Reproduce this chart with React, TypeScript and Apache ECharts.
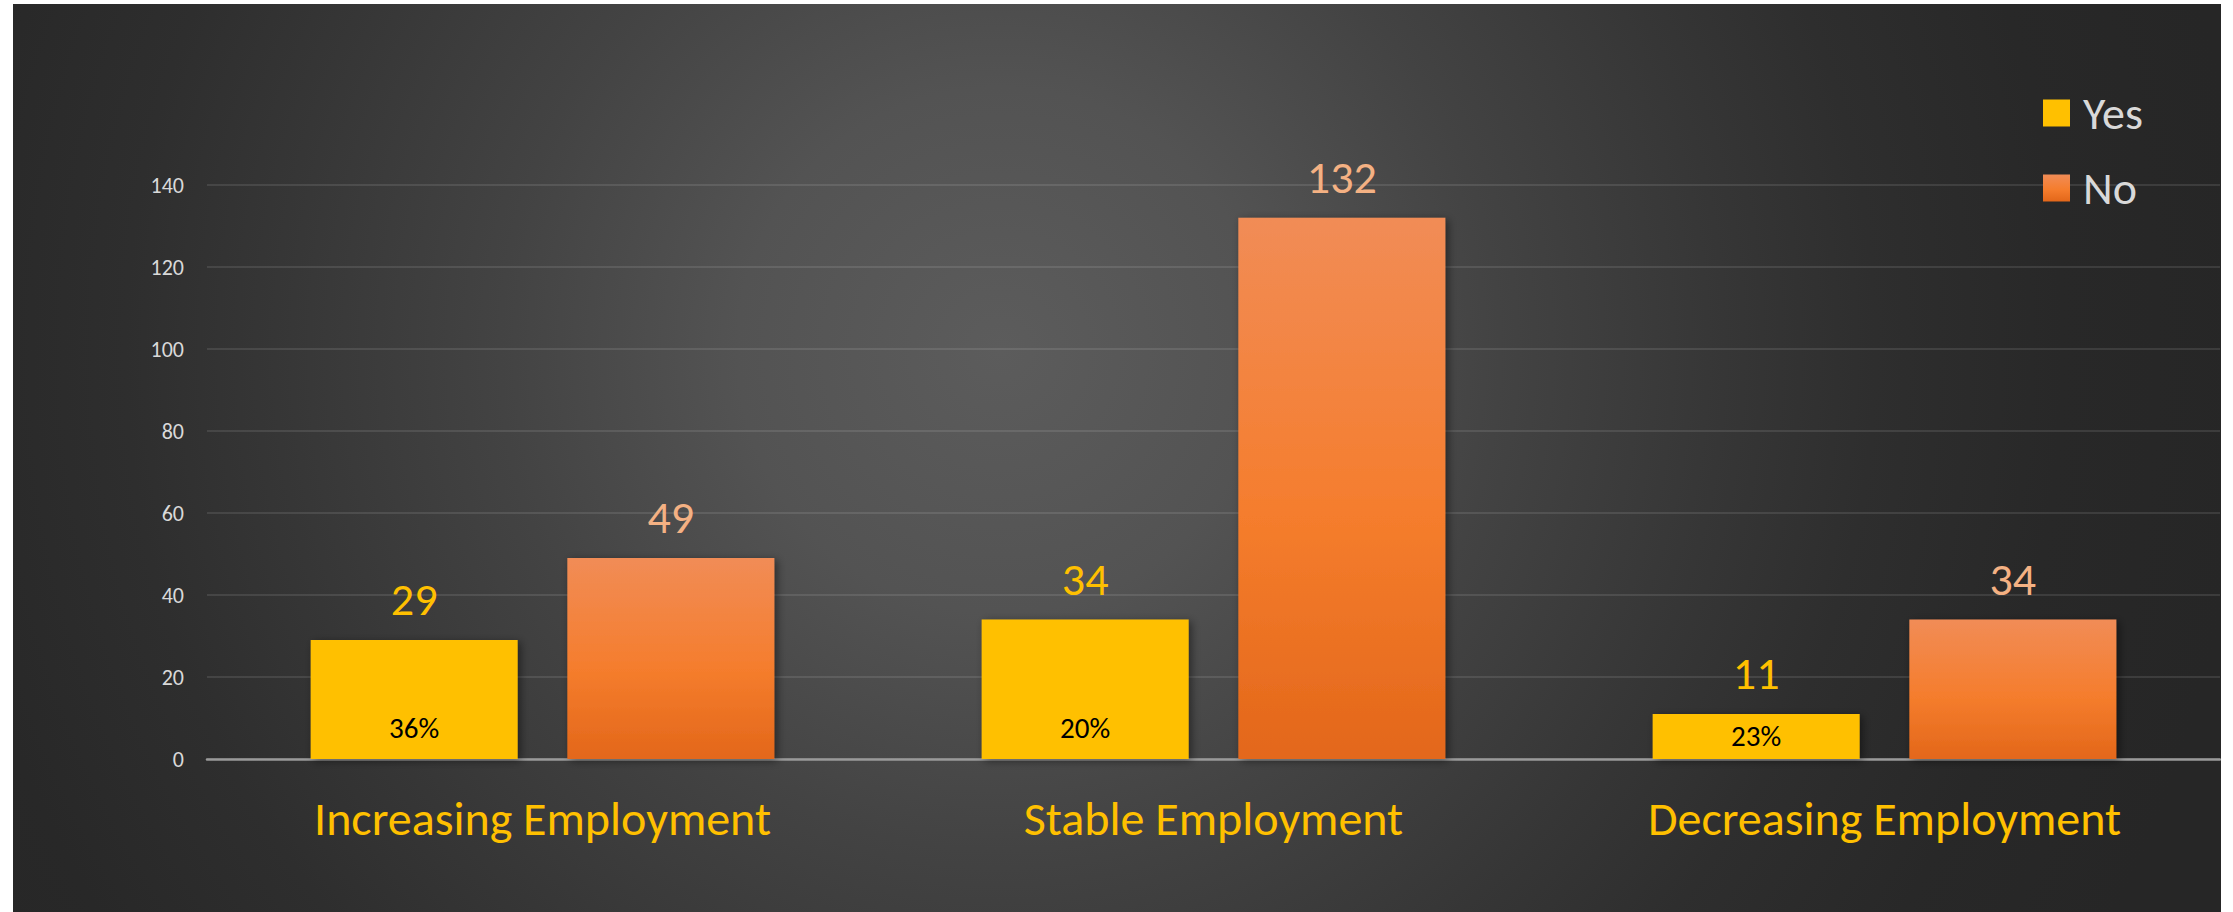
import React, { useEffect, useRef } from "react";
import * as echarts from "echarts";

const categories = ["Increasing Employment", "Stable Employment", "Decreasing Employment"];
const yesValues = [29, 34, 11];
const noValues = [49, 132, 34];
const yesShare = ["36%", "20%", "23%"];
const yTicks = { min: 0, max: 140, interval: 20 };

const FONT = "Carlito, Calibri, Lato, sans-serif";

export default function App() {
  const ref = useRef<HTMLDivElement>(null);
  useEffect(() => {
    if (!ref.current) return;
    const chart = echarts.init(ref.current, undefined, { renderer: "svg" });
    const noGradient = new echarts.graphic.LinearGradient(0, 0, 0, 1, [
      { offset: 0, color: "#F18C56" },
      { offset: 0.55, color: "#F57D2D" },
      { offset: 1, color: "#E3671A" },
    ]);
    const shadow = {
      shadowBlur: 8,
      shadowColor: "rgba(0,0,0,0.45)",
      shadowOffsetX: 3,
      shadowOffsetY: 2,
    };
    chart.setOption({
      animation: false,
      backgroundColor: "transparent",
      textStyle: { fontFamily: FONT },
      grid: { left: 194, right: 1, top: 181, bottom: 153, containLabel: false },
      legend: {
        orient: "vertical",
        left: 2030,
        top: 86,
        padding: 0,
        itemWidth: 27,
        itemHeight: 27,
        itemGap: 29,
        icon: "rect",
        textStyle: {
          color: "#d9d9d9",
          fontSize: 46,
          lineHeight: 45,
          fontFamily: FONT,
          padding: [0, 0, 0, 8],
        },
        data: ["Yes", "No"],
      },
      xAxis: {
        type: "category",
        data: categories,
        axisTick: { show: false },
        axisLine: { lineStyle: { color: "#9a9a9a", width: 2.5 } },
        axisLabel: {
          color: "#FFC000",
          fontSize: 48,
          lineHeight: 48,
          margin: 35,
          fontFamily: FONT,
        },
      },
      yAxis: {
        type: "value",
        min: yTicks.min,
        max: yTicks.max,
        interval: yTicks.interval,
        axisLine: { show: false },
        axisTick: { show: false },
        axisLabel: { color: "#d9d9d9", fontSize: 22, margin: 23, fontFamily: FONT },
        splitLine: { lineStyle: { color: "rgba(255,255,255,0.1)", width: 2 } },
      },
      series: [
        {
          name: "Yes",
          type: "bar",
          data: yesValues,
          barWidth: 207,
          barGap: "24%",
          itemStyle: { color: "#FFC000", ...shadow },
          label: {
            show: true,
            position: "top",
            distance: 18,
            color: "#FFC000",
            fontSize: 46,
            lineHeight: 46,
            fontFamily: FONT,
          },
          markPoint: {
            symbol: "rect",
            symbolSize: 1,
            itemStyle: { color: "rgba(0,0,0,0)" },
            label: {
              show: true,
              position: "inside",
              color: "#000",
              fontSize: 29,
              fontFamily: FONT,
              formatter: (p: any) => p.name,
            },
            data: yesValues.map((v, i) => ({
              name: yesShare[i],
              coord: [i, Math.min(7.5, v / 2)],
            })),
          },
        },
        {
          name: "No",
          type: "bar",
          data: noValues,
          barWidth: 207,
          barGap: "24%",
          itemStyle: { color: noGradient, ...shadow },
          label: {
            show: true,
            position: "top",
            distance: 18,
            color: "#F4B183",
            fontSize: 46,
            lineHeight: 46,
            fontFamily: FONT,
          },
        },
      ],
    });
    return () => chart.dispose();
  }, []);

  return (
    <div
      style={{
        position: "fixed",
        left: 0,
        top: 0,
        width: "100vw",
        height: "100vh",
        background: "#ffffff",
        overflow: "hidden",
      }}
    >
      <div
        ref={ref}
        style={{
          position: "absolute",
          left: 13,
          top: 4,
          width: 2208,
          height: 908,
          background:
            "radial-gradient(circle 1250px at 987px 346px, #5c5c5c 0%, #535353 21%, #434343 40%, #363636 58%, #2e2e2e 70%, #282828 85%, #262626 100%)",
        }}
      />
    </div>
  );
}
